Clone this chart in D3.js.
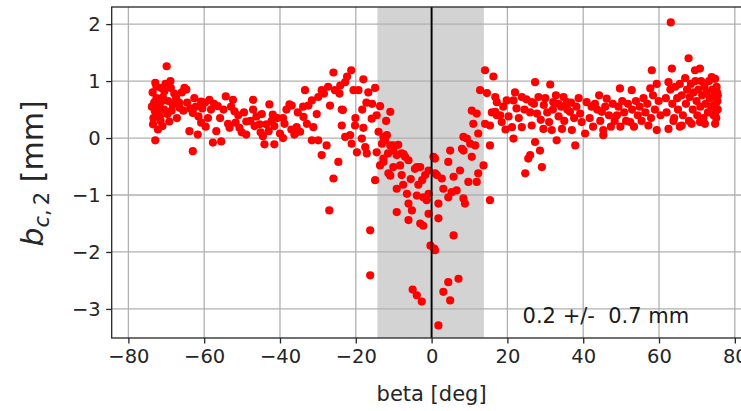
<!DOCTYPE html>
<html>
<head>
<meta charset="utf-8">
<script src="https://cdn.jsdelivr.net/npm/d3@7"></script>
<style>
  html, body { margin: 0; padding: 0; background: #fff; }
  svg { display: block; font-family: "DejaVu Sans", sans-serif; }
  .tick text { font-family: "DejaVu Sans", sans-serif; fill: #262626; }
</style>
</head>
<body>
<svg id="chart" width="741" height="411"></svg>
<script>
// Measured offsets b_c,2 [mm] versus beta [deg], one array of [beta, b] pairs per beta range.
const pointsOuterLeft = [
  [-69.9,1.26],[-72.9,0.97],[-68.9,1.00],[-71.3,0.88],[-70.5,0.82],[-68.8,0.88],[-65.2,0.88],[-64.7,0.85],
  [-72.6,0.70],[-71.3,0.64],[-68.3,0.59],[-67.4,0.70],[-66.5,0.53],[-73.0,0.47],[-71.7,0.38],[-73.5,0.24],
  [-71.0,0.21],[-69.2,0.29],[-72.2,0.15],[-72.9,-0.04],[-63.0,-0.23],[-63.9,0.12],[-61.7,0.06],[-63.0,0.44],
  [-62.6,0.70],[-60.8,0.64],[-60.8,0.27],[-58.6,0.67],[-59.0,0.35],[-57.7,-0.08],[-56.4,0.56],[-56.8,0.12],
  [-55.5,-0.06],[-54.3,0.73],[-52.4,0.67],[-52.0,0.47],[-53.3,0.18],[-51.7,0.27],[-50.7,0.18],[-48.9,0.29],
  [-48.9,0.06],[-47.1,0.67],[-47.1,0.50],[-46.7,0.21],[-45.4,0.24],[-44.5,0.03],[-43.6,0.24],[-44.1,-0.11],
  [-42.8,0.59],[-41.9,0.41],[-41.5,0.21],[-41.5,-0.11],[-39.2,0.35],[-37.5,0.59],[-39.2,0.00],[-37.0,0.15],
  [-36.2,0.06],[-38.3,0.50],
  [-73.8,0.55],[-73.6,0.80],[-73.4,0.35],[-73.2,0.62],[-72.6,0.90],[-72.4,0.48],[-71.8,0.58],[-71.5,0.30],
  [-70.9,0.72],[-70.6,0.50],[-70.2,0.95],[-69.7,0.42],[-69.5,0.65],[-68.6,0.48],[-67.9,0.78],[-67.2,0.35],
  [-66.6,0.62],[-65.9,0.80],[-65.5,0.48],[-64.5,0.62],[-63.7,0.52],[-62.2,0.55],[-61.5,0.38],[-60.5,0.52],
  [-59.8,0.62],[-59.6,0.20],[-58.2,0.50],[-57.4,0.60],[-55.8,0.35],[-54.9,0.50],[-53.7,0.25],[-52.9,0.55],
  [-51.0,0.40],[-50.1,0.10],[-49.5,0.45],[-47.8,0.30],[-46.2,0.38],[-45.1,0.10],[-44.8,0.42],[-43.0,0.12],
  [-42.2,0.30],[-40.7,0.35],[-40.0,0.08],[-38.8,0.25]
];

const pointsInnerLeft = [
  [-25.9,1.15],[-21.2,1.19],[-18.0,1.03],[-22.8,0.98],[-24.1,0.92],[-33.4,0.84],[-29.0,0.84],[-29.9,0.72],
  [-25.5,0.84],[-20.6,0.84],[-19.3,0.84],[-16.7,0.80],[-14.9,0.88],[-31.6,0.66],[-32.5,0.57],[-26.8,0.57],
  [-36.9,0.57],[-23.7,0.50],[-33.8,0.37],[-32.9,0.25],[-35.6,0.19],[-36.0,0.08],[-34.7,0.11],[-31.2,0.19],
  [-23.7,0.22],[-20.2,0.22],[-18.0,0.18],[-15.8,0.34],[-31.6,-0.04],[-29.9,-0.04],[-27.7,-0.13],[-22.8,0.02],
  [-21.5,0.05],[-21.1,-0.10],[-19.7,-0.25],[-18.4,-0.01],[-17.5,-0.16],[-17.1,-0.27],[-29.0,-0.30],[-24.6,-0.42],
  [-25.9,-0.71],[-27.0,-1.27],[-16.2,-1.62],[-16.2,-2.41],[-14.9,-0.74],[-23.4,0.49],
  [-35.3,0.45],[-33.9,0.55],[-30.3,0.42],[-28.4,0.78],[-27.3,0.90],[-24.3,0.78],[-22.3,1.08],[-20.1,0.35],
  [-18.3,0.50],[-17.2,0.62],[-15.7,0.60]
];

const pointsCentre = [
  [-13.6,0.56],[-10.9,0.46],[-14.5,0.40],[-14.0,0.11],[-12.7,0.02],[-11.8,0.05],[-13.1,-0.10],[-10.9,-0.13],
  [-10.1,-0.22],[-14.5,-0.25],[-12.7,-0.36],[-13.6,-0.48],[-11.4,-0.62],[-10.1,-0.51],[-9.2,-0.30],[-7.9,-0.27],
  [-7.0,-0.33],[-6.1,-0.39],[-8.3,-0.48],[-7.9,-0.65],[-4.4,-0.54],[-3.0,-0.51],[-1.7,-0.65],[-9.2,-0.89],
  [-6.5,-0.98],[-3.9,-1.01],[-2.2,-1.04],[-1.3,-1.09],[-0.8,-0.98],[-6.1,-1.15],[-5.2,-1.27],[-9.2,-1.30],
  [-6.1,-1.44],[-3.0,-1.50],[-2.2,-1.54],[-0.8,-1.33],[-0.3,-1.89],[-5.0,-2.66],[-3.9,-2.76],[-2.6,-2.87],
  [-12.3,-0.04],[-10.1,-0.13],[-7.4,-0.28],[-12.7,-0.42],[-10.9,-0.66],[-3.9,-0.51],
  [-12.0,0.30],[-11.5,-0.27],[-8.8,-0.12],[-5.5,-0.72],[-3.5,-0.82],[-0.8,-0.57],[-7.5,-0.82],[-2.5,-0.74],
  [0.9,-1.97],[1.8,-3.29],[0.9,-0.36],[4.4,-0.42],[4.9,-0.22],[8.4,-0.22],[10.6,-0.33],[9.3,-0.01],
  [10.2,-0.10],[10.6,0.48],[11.9,0.43],[14.1,0.25],[11.0,0.25],[12.3,0.08],[13.7,-0.48],[7.5,-0.57],
  [12.3,-0.62],[1.4,-0.65],[2.7,-0.71],[5.8,-0.68],[9.7,-0.77],[11.9,-0.77],[3.1,-0.89],[5.3,-0.95],
  [6.6,-0.92],[8.4,-1.06],[8.8,-1.15],[4.4,-1.04],[1.8,-1.15],[1.8,-1.41],[5.8,-1.71],[4.4,-2.53],
  [7.1,-2.47],[3.1,-2.70],[4.9,-2.85],[0.5,-0.33],[0.9,-0.62],[8.4,0.02],[8.0,-0.19],[11.5,-0.13],
  [0.7,-1.94],[12.8,0.84],[14.6,0.79]
];

const pointsInnerRight = [
  [14.1,1.19],[16.3,1.08],[16.8,0.72],[17.2,0.63],[15.9,0.45],[17.2,0.40],[18.5,0.28],[15.4,-0.13],
  [15.4,-1.09],[27.3,0.98],[31.3,0.94],[21.6,-0.01],[27.3,-0.07],[28.6,-0.22],[26.0,-0.30],[25.5,-0.36],
  [29.1,-0.51],[24.7,-0.62],[33.0,-0.04],[37.9,-0.13],[19.8,0.66],[21.6,0.66],[23.8,0.72],[26.4,0.63],
  [32.1,0.63],[33.5,0.60],[35.7,0.63],[16.8,0.46],[18.1,0.40],[27.8,0.43],[36.5,0.46],[39.2,0.43],
  [21.2,0.19],[23.8,0.19],[26.4,0.22],[29.5,0.16],[31.7,0.14],[34.4,0.16],[37.0,0.14],[15.4,0.22],
  [18.9,0.55],[20.3,0.38],[22.4,0.52],[23.0,0.35],[24.5,0.50],[25.0,0.68],[26.0,0.45],[27.0,0.60],
  [28.2,0.72],[28.8,0.32],[29.6,0.58],[30.5,0.45],[31.0,0.28],[32.0,0.50],[32.8,0.75],[33.5,0.38],
  [34.2,0.55],[35.0,0.30],[35.8,0.50],[36.8,0.62],[37.6,0.35],[38.2,0.55],[38.8,0.70],[39.6,0.28],
  [19.5,0.15],[22.0,0.80],[30.0,0.70],[34.8,0.72]
];

const pointsOuterRight = [
  [40.9,0.63],[43.1,0.60],[46.2,0.69],[44.9,0.46],[40.5,0.08],[45.3,0.14],
  [49.7,0.87],[52.8,0.84],[58.1,1.19],[57.7,0.87],[59.4,0.95],[45.3,0.05],[57.2,0.22],[59.4,0.14],
  [52.4,0.28],[48.9,0.40],
  [41.7,0.35],[42.6,0.20],[43.7,0.50],[44.5,0.30],[45.8,0.55],[46.8,0.40],[47.3,0.20],[47.8,0.60],
  [48.3,0.30],[49.3,0.55],[49.8,0.20],[50.3,0.65],[50.8,0.45],[51.3,0.30],[51.8,0.60],[52.9,0.50],
  [53.4,0.20],[53.9,0.65],[54.4,0.40],[54.9,0.55],[55.4,0.30],[55.9,0.70],[56.4,0.45],[56.9,0.60],
  [57.9,0.35],[58.4,0.75],[58.9,0.50],[59.9,0.65],[60.4,0.40],[42.2,0.55],[44.2,0.75],
  [62.5,0.98],[63.4,1.22],[63.1,2.03],[67.8,1.40],[69.5,1.19],[70.8,1.22],[73.9,1.07],[74.8,1.04],
  [62.5,0.16],[66.0,0.22],[70.8,0.28],[74.8,0.25],[74.4,0.57],[74.8,0.43],
  [61.8,0.70],[62.0,0.45],[63.0,0.85],[63.5,0.60],[64.0,0.35],[64.3,0.90],[64.8,0.70],[65.0,0.50],
  [65.5,0.95],[66.0,0.75],[66.3,0.40],[66.9,1.05],[67.1,0.60],[67.4,0.85],[67.9,0.30],[68.1,0.72],
  [68.4,0.95],[68.9,0.50],[69.1,0.80],[69.6,1.00],[69.9,0.65],[70.1,0.40],[70.4,0.85],[70.9,0.55],
  [71.1,1.00],[71.4,0.75],[71.7,0.35],[72.0,0.90],[72.3,0.60],[72.6,0.80],[72.9,0.45],[73.2,1.00],
  [73.4,0.70],[73.8,0.55],[74.1,0.85],[74.4,0.40],[74.7,0.75],[75.0,0.60],[75.2,0.90],[75.5,0.50],
  [75.3,0.80],[75.4,0.65],[75.1,0.35],[75.5,0.75],[72.1,0.25],[68.6,0.25],[65.5,0.20],[63.8,0.30]
];

const xTicks = [-80, -60, -40, -20, 0, 20, 40, 60, 80];
const yTicks = [-3, -2, -1, 0, 1, 2];
const shadedBand = [-14.3, 13.8];   // beta range of the grey band
const summaryText = "0.2 +/-  0.7 mm";
const summaryAt = [24, -3.25];

const allPoints = [].concat(pointsOuterLeft, pointsInnerLeft, pointsCentre, pointsInnerRight, pointsOuterRight);

const svg = d3.select("#chart");
const plot = { left: 111.7, right: 751.5, top: 7, bottom: 338 };

const x = d3.scaleLinear().domain([-84.4, 84.4]).range([plot.left, plot.right]);
const y = d3.scaleLinear().domain([-3.51, 2.30]).range([plot.bottom, plot.top]);

svg.append("defs").append("clipPath").attr("id", "plot-clip")
  .append("rect")
  .attr("x", plot.left).attr("y", plot.top)
  .attr("width", plot.right - plot.left).attr("height", plot.bottom - plot.top);

const body = svg.append("g").attr("clip-path", "url(#plot-clip)");

// grey band around beta = 0
body.append("rect")
  .attr("x", x(shadedBand[0]))
  .attr("width", x(shadedBand[1]) - x(shadedBand[0]))
  .attr("y", plot.top).attr("height", plot.bottom - plot.top)
  .attr("fill", "#d3d3d3");

// grid
body.append("g").selectAll("line").data(xTicks).join("line")
  .attr("x1", d => x(d)).attr("x2", d => x(d))
  .attr("y1", plot.top).attr("y2", plot.bottom)
  .attr("stroke", "#b0b0b0").attr("stroke-width", 1.3);
body.append("g").selectAll("line").data(yTicks).join("line")
  .attr("x1", plot.left).attr("x2", plot.right)
  .attr("y1", d => y(d)).attr("y2", d => y(d))
  .attr("stroke", "#b0b0b0").attr("stroke-width", 1.3);

// scatter points
body.append("g").selectAll("circle").data(allPoints).join("circle")
  .attr("cx", d => x(d[0])).attr("cy", d => y(d[1]))
  .attr("r", 4.1).attr("fill", "#ff0000");

// vertical line at beta = 0
body.append("line")
  .attr("x1", x(0)).attr("x2", x(0))
  .attr("y1", plot.top).attr("y2", plot.bottom)
  .attr("stroke", "#000").attr("stroke-width", 1.9);

// summary annotation
svg.append("text")
  .attr("x", x(summaryAt[0])).attr("y", y(summaryAt[1]))
  .attr("font-size", 21).attr("fill", "#1a1a1a")
  .style("white-space", "pre")
  .text(summaryText);

// frame
svg.append("rect")
  .attr("x", plot.left).attr("y", plot.top)
  .attr("width", plot.right - plot.left).attr("height", plot.bottom - plot.top)
  .attr("fill", "none").attr("stroke", "#262626").attr("stroke-width", 1.3);

// axes
const fmt = d => d < 0 ? "\u2212" + Math.abs(d) : String(d);
const xAxis = svg.append("g").attr("transform", `translate(0,${plot.bottom})`)
  .call(d3.axisBottom(x).tickValues(xTicks).tickFormat(fmt).tickSize(5.5).tickPadding(6));
const yAxis = svg.append("g").attr("transform", `translate(${plot.left},0)`)
  .call(d3.axisLeft(y).tickValues(yTicks).tickFormat(fmt).tickSize(5.5).tickPadding(5.5));
[xAxis, yAxis].forEach(a => {
  a.select(".domain").remove();
  a.selectAll(".tick line").attr("stroke", "#262626").attr("stroke-width", 1.3);
  a.selectAll(".tick text").attr("font-size", 19.5).attr("fill", "#262626");
});

// axis labels
svg.append("text")
  .attr("x", (plot.left + plot.right) / 2).attr("y", 401)
  .attr("text-anchor", "middle").attr("font-size", 21).attr("fill", "#262626")
  .text("beta [deg]");

const yl = svg.append("text")
  .attr("transform", `translate(43,${(plot.top + plot.bottom) / 2 + 1}) rotate(-90)`)
  .attr("text-anchor", "middle").attr("font-size", 30).attr("fill", "#262626");
yl.append("tspan").attr("font-style", "italic").text("b");
yl.append("tspan").attr("font-size", 21).attr("dy", 6).attr("font-style", "italic").text("c");
yl.append("tspan").attr("font-size", 21).text(",\u20092");
yl.append("tspan").attr("dy", -6).text(" [mm]");
</script>
</body>
</html>
